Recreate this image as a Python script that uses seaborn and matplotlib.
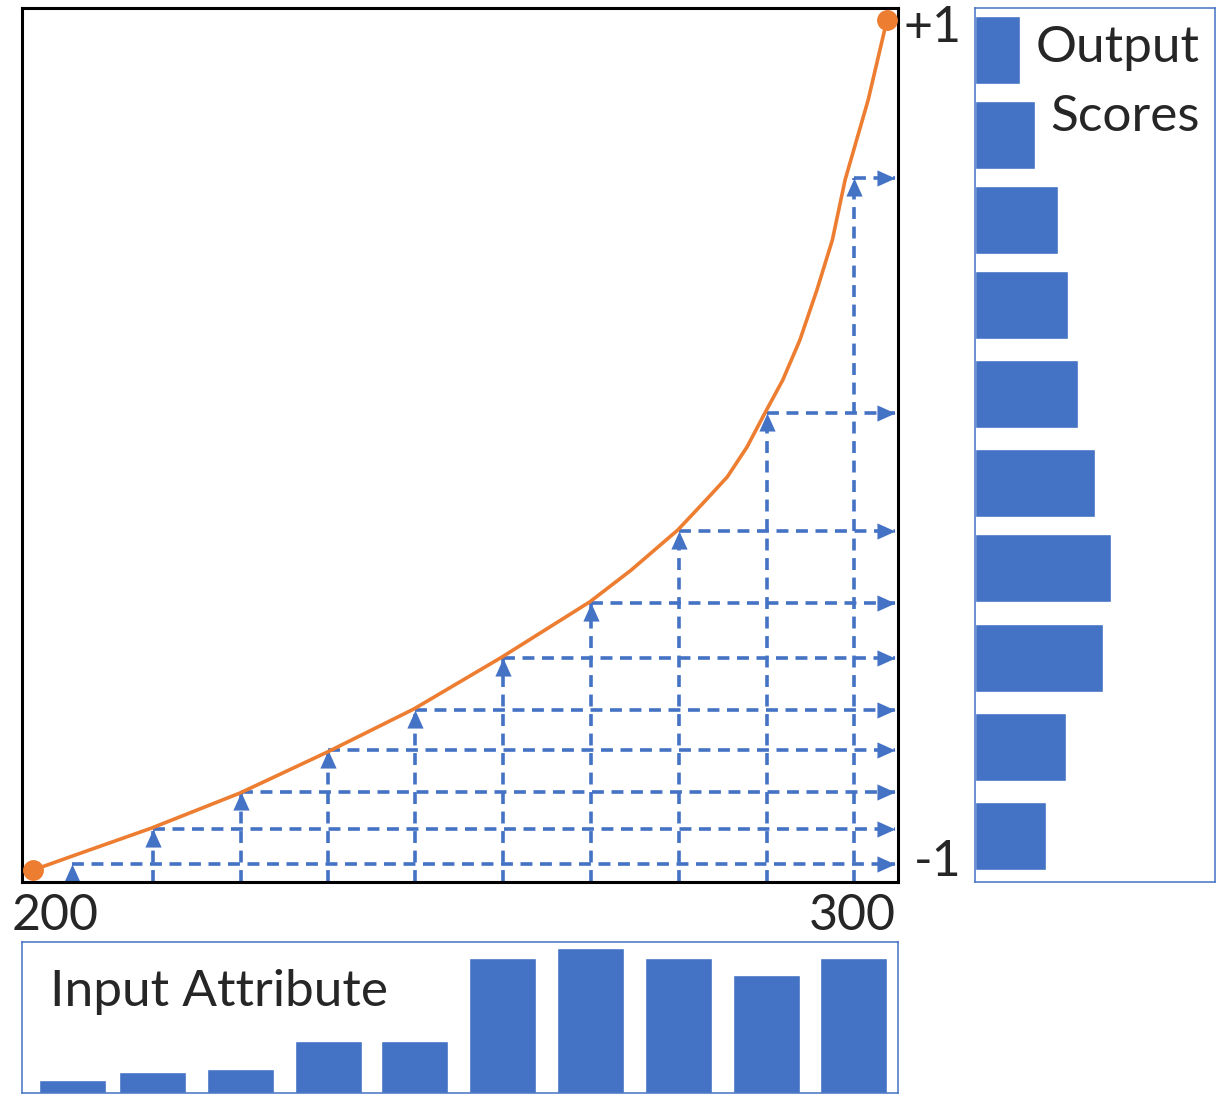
import matplotlib
matplotlib.use("Agg")
import matplotlib.pyplot as plt
import seaborn as sns

# curve: input attribute -> output score
curve_x = [200.0, 204.6, 213.9, 224.2, 234.5, 244.6, 254.9, 265.2, 270.0, 275.5, 278.5,
           281.3, 283.6, 285.7, 287.8, 289.8, 291.8, 293.6, 295.1, 297.8, 300.0]
curve_y = [-1.0, -0.967, -0.901, -0.819, -0.722, -0.621, -0.499, -0.369, -0.295, -0.200, -0.136,
           -0.075, -0.005, 0.075, 0.153, 0.247, 0.365, 0.482, 0.624, 0.812, 1.0]

# input bins (centres) and their mapped scores
bin_centers = [204.6, 214.0, 224.3, 234.6, 244.7, 255.0, 265.3, 275.6, 285.9, 296.1]
bin_scores = [-0.986, -0.904, -0.816, -0.718, -0.624, -0.501, -0.372, -0.202, 0.075, 0.628]

# input attribute histogram
input_counts = [1.3, 2.1, 2.4, 5.2, 5.2, 13.5, 14.5, 13.5, 11.8, 13.5]

# output score histogram (bottom to top)
score_centers = [-0.92, -0.71, -0.50, -0.29, -0.09, 0.12, 0.33, 0.53, 0.73, 0.93]
score_counts = [7.1, 9.1, 12.8, 13.6, 12.0, 10.3, 9.3, 8.3, 6.0, 4.5]

BLUE = "#4472C4"
ORANGE = "#ED7D31"

sns.set_theme(style="white")
plt.rcParams["font.family"] = ["Lato", "DejaVu Sans"]
FS_WORD = 37
FS_NUM = 36

W, H = 1220, 1094


def box(l, t, r, b):
    return [l / W, 1 - b / H, (r - l) / W, (b - t) / H]


fig = plt.figure(figsize=(W / 100, H / 100), dpi=100)
ax = fig.add_axes(box(22, 8, 898, 882))
ax_r = fig.add_axes(box(975, 8, 1215, 882))
ax_b = fig.add_axes(box(22, 942, 898, 1093))

xlim = (198.71, 301.29)
ylim = (-1.028, 1.028)
arrow_end = 300.9

# arrowhead markers with the tip at the data point
up_head = [(0, 0), (-0.45, -1), (0.45, -1), (0, 0)]
right_head = [(0, 0), (-1, 0.45), (-1, -0.45), (0, 0)]
dash = dict(color=BLUE, lw=2.6, dashes=(3.3, 2.1), dash_capstyle="butt")

# --- main mapping panel ---
for cx, sy in zip(bin_centers, bin_scores):
    ax.plot([cx, cx], [ylim[0], sy], **dash)
    ax.plot([cx, arrow_end], [sy, sy], **dash)
ax.plot(bin_centers, bin_scores, ls="none", marker=up_head, ms=26, color=BLUE, mew=0)
ax.plot([arrow_end] * len(bin_scores), bin_scores, ls="none", marker=right_head,
        ms=26, color=BLUE, mew=0)

sns.lineplot(x=curve_x, y=curve_y, sort=False, color=ORANGE, lw=2.6, ax=ax, zorder=4)
ax.plot([curve_x[0], curve_x[-1]], [curve_y[0], curve_y[-1]], ls="none", marker="o",
        ms=14, color=ORANGE, zorder=5, clip_on=False)

ax.set_xlim(*xlim)
ax.set_ylim(*ylim)
ax.set_xticks([])
ax.set_yticks([])
for s in ax.spines.values():
    s.set_color("black")
    s.set_linewidth(2.2)

ax.annotate("+1", xy=(1, 1), xycoords=("axes fraction", "data"), xytext=(64, -8),
            textcoords="offset pixels", ha="right", va="center", fontsize=FS_NUM)
ax.annotate("-1", xy=(1, -1), xycoords=("axes fraction", "data"), xytext=(64, 8),
            textcoords="offset pixels", ha="right", va="center", fontsize=FS_NUM)
ax.annotate("200", xy=(200, 0), xycoords=("data", "axes fraction"), xytext=(22, -34),
            textcoords="offset pixels", ha="center", va="center", fontsize=FS_NUM)
ax.annotate("300", xy=(300, 0), xycoords=("data", "axes fraction"), xytext=(-35, -34),
            textcoords="offset pixels", ha="center", va="center", fontsize=FS_NUM)

# --- output score histogram ---
sns.barplot(x=score_counts, y=score_centers, orient="y", native_scale=True, width=0.8,
            color=BLUE, saturation=1, errorbar=None, ax=ax_r)
ax_r.set_xlim(0, 24)
ax_r.set_ylim(*ylim)
ax_r.set_xticks([])
ax_r.set_yticks([])
ax_r.set_xlabel("")
ax_r.set_ylabel("")
for s in ax_r.spines.values():
    s.set_color(BLUE)
    s.set_linewidth(1.1)
ax_r.text(0.9375, 0.954, "Output", transform=ax_r.transAxes, ha="right", va="center",
          fontsize=FS_WORD)
ax_r.text(0.9375, 0.875, "Scores", transform=ax_r.transAxes, ha="right", va="center",
          fontsize=FS_WORD)

# --- input attribute histogram ---
sns.barplot(x=bin_centers, y=input_counts, native_scale=True, width=0.835,
            color=BLUE, saturation=1, errorbar=None, ax=ax_b)
ax_b.set_xlim(*xlim)
ax_b.set_ylim(0, 15.1)
ax_b.set_xticks([])
ax_b.set_yticks([])
ax_b.set_xlabel("")
ax_b.set_ylabel("")
for s in ax_b.spines.values():
    s.set_color(BLUE)
    s.set_linewidth(1.1)
ax_b.text(0.032, 0.669, "Input Attribute", transform=ax_b.transAxes, ha="left", va="center",
          fontsize=FS_WORD)

fig.savefig("out.png", dpi=100)
